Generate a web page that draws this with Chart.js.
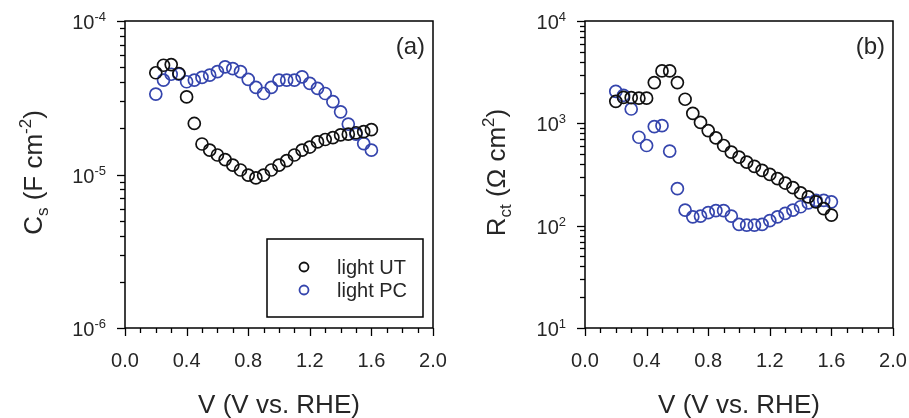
<!DOCTYPE html>
<html>
<head>
<meta charset="utf-8">
<script src="https://cdn.jsdelivr.net/npm/chart.js@4.4.1/dist/chart.umd.min.js"></script>
<style>
  html, body { margin: 0; padding: 0; background: #fff; }
  #wrap { position: relative; width: 909px; height: 418px; }
  .panel { position: absolute; top: 0; height: 418px; }
  #panelA { left: 0; width: 455px; }
  #panelB { left: 455px; width: 454px; }
</style>
</head>
<body>
<div id="wrap">
  <div class="panel" id="panelA"><canvas id="chartA"></canvas></div>
  <div class="panel" id="panelB"><canvas id="chartB"></canvas></div>
</div>
<script>
// potentials (V vs. RHE)
const voltages = [0.20, 0.25, 0.30, 0.35, 0.40, 0.45, 0.50, 0.55, 0.60, 0.65,
                  0.70, 0.75, 0.80, 0.85, 0.90, 0.95, 1.00, 1.05, 1.10, 1.15,
                  1.20, 1.25, 1.30, 1.35, 1.40, 1.45, 1.50, 1.55, 1.60];

// panel (a): Cs, F cm^-2
const csLightUT = [4.6e-5, 5.15e-5, 5.2e-5, 4.55e-5, 3.2e-5, 2.15e-5, 1.58e-5, 1.44e-5, 1.34e-5, 1.25e-5,
                   1.15e-5, 1.07e-5, 9.9e-6, 9.5e-6, 9.9e-6, 1.07e-5, 1.15e-5, 1.23e-5, 1.34e-5, 1.44e-5,
                   1.51e-5, 1.63e-5, 1.69e-5, 1.74e-5, 1.81e-5, 1.83e-5, 1.87e-5, 1.9e-5, 1.96e-5];
const csLightPC = [3.34e-5, 4.12e-5, 4.5e-5, 4.5e-5, 4.02e-5, 4.12e-5, 4.29e-5, 4.44e-5, 4.68e-5, 5.03e-5,
                   4.9e-5, 4.68e-5, 4.17e-5, 3.69e-5, 3.37e-5, 3.69e-5, 4.12e-5, 4.12e-5, 4.12e-5, 4.33e-5,
                   3.92e-5, 3.64e-5, 3.37e-5, 2.98e-5, 2.56e-5, 2.13e-5, 1.83e-5, 1.59e-5, 1.44e-5];

// panel (b): Rct, Ohm cm^2
const rctLightUT = [1640, 1790, 1780, 1760, 1760, 2500, 3250, 3250, 2500, 1720,
                    1250, 1020, 850, 720, 607, 523, 468, 418, 379, 347,
                    317, 288, 261, 235, 209, 191, 171, 147, 127];
const rctLightPC = [2050, 1880, 1380, 731, 607, 929, 949, 535, 230, 142,
                    122, 124, 134, 140, 140, 124, 103, 101, 101, 103,
                    112, 122, 132, 142, 153, 167, 177, 177, 171];

const xTicks = [0.0, 0.4, 0.8, 1.2, 1.6, 2.0];
const seriesNames = ['light UT', 'light PC'];

const BLACK = '#111111';
const BLUE = '#3545ad';
const TEXT = '#262626';
const FONT = '"Liberation Sans", Arial, sans-serif';

const toPoints = (ys) => voltages.map((v, i) => ({ x: v, y: ys[i] }));

// draws text made of pieces: {t, size, dy}
const drawRich = (ctx, parts, x, y, align) => {
    let total = 0;
    parts.forEach(p => {
        ctx.font = p.size + 'px ' + FONT;
        p.w = ctx.measureText(p.t).width;
        total += p.w;
    });
    let cx = align === 'right' ? x - total : (align === 'center' ? x - total / 2 : x);
    ctx.textAlign = 'left';
    ctx.textBaseline = 'alphabetic';
    parts.forEach(p => {
        ctx.font = p.size + 'px ' + FONT;
        ctx.fillText(p.t, cx, y + (p.dy || 0));
        cx += p.w;
    });
};

const framePlugin = {
    id: 'frame',
    afterDraw(chart, args, opts) {
        const { ctx, chartArea: a, scales } = chart;
        const xs = scales.x, ys = scales.y;
        ctx.save();
        ctx.strokeStyle = '#000';
        ctx.lineWidth = 1.5;
        ctx.strokeRect(a.left, a.top, a.right - a.left, a.bottom - a.top);

        // x ticks
        ctx.lineWidth = 1.3;
        for (let i = 0; i <= 20; i++) {
            const v = i / 10;
            const px = Math.round(xs.getPixelForValue(v)) + 0.5;
            const major = i % 4 === 0;
            ctx.beginPath();
            ctx.moveTo(px, a.bottom);
            ctx.lineTo(px, a.bottom + (major ? 8 : 5));
            ctx.stroke();
        }
        ctx.fillStyle = TEXT;
        ctx.font = '20px ' + FONT;
        ctx.textAlign = 'center';
        ctx.textBaseline = 'alphabetic';
        xTicks.forEach(v => {
            ctx.fillText(v.toFixed(1), xs.getPixelForValue(v), 367);
        });

        // y log ticks
        const lo = Math.round(Math.log10(ys.min)), hi = Math.round(Math.log10(ys.max));
        for (let e = lo; e <= hi; e++) {
            const base = Math.pow(10, e);
            const py = Math.round(ys.getPixelForValue(base)) + 0.5;
            ctx.beginPath();
            ctx.moveTo(a.left, py);
            ctx.lineTo(a.left - 8, py);
            ctx.stroke();
            drawRich(ctx, [
                { t: '10', size: 20 },
                { t: String(e), size: 13, dy: -8 }
            ], a.left - 19, py + 7, 'right');
            if (e < hi) {
                for (let k = 2; k <= 9; k++) {
                    const my = Math.round(ys.getPixelForValue(base * k)) + 0.5;
                    ctx.beginPath();
                    ctx.moveTo(a.left, my);
                    ctx.lineTo(a.left - 5, my);
                    ctx.stroke();
                }
            }
        }

        // x axis title
        ctx.fillStyle = TEXT;
        ctx.font = '26px ' + FONT;
        ctx.textAlign = 'center';
        ctx.fillText('V (V vs. RHE)', (a.left + a.right) / 2, 413);

        // y axis title (rotated)
        ctx.save();
        ctx.translate(opts.titleX, (a.top + a.bottom) / 2 - 2);
        ctx.rotate(-Math.PI / 2);
        drawRich(ctx, opts.yTitle, 0, 0, 'center');
        ctx.restore();

        // panel letter
        ctx.font = '24px ' + FONT;
        ctx.textAlign = 'right';
        ctx.fillText(opts.letter, a.right - 8, 54);

        // legend
        if (opts.legend) {
            const L = opts.legend;
            ctx.lineWidth = 1.5;
            ctx.strokeStyle = '#000';
            ctx.strokeRect(L.x, L.y, L.w, L.h);
            chart.data.datasets.forEach((ds, i) => {
                const cy = L.y + 28 + i * 23;
                ctx.beginPath();
                ctx.arc(L.x + 37, cy, 4.5, 0, Math.PI * 2);
                ctx.strokeStyle = ds.borderColor;
                ctx.lineWidth = 1.8;
                ctx.stroke();
                ctx.fillStyle = TEXT;
                ctx.font = '20px ' + FONT;
                ctx.textAlign = 'left';
                ctx.fillText(ds.label, L.x + 70, cy + 7);
            });
        }
        ctx.restore();
    }
};

const makeChart = (id, ds1, ds2, yMin, yMax, yWidth, padRight, plugOpts) => {
    return new Chart(document.getElementById(id), {
        type: 'scatter',
        data: {
            datasets: [
                { label: seriesNames[0], data: toPoints(ds1), borderColor: BLACK, backgroundColor: 'transparent',
                  pointRadius: 6, pointBorderWidth: 1.7, pointHoverRadius: 6 },
                { label: seriesNames[1], data: toPoints(ds2), borderColor: BLUE, backgroundColor: 'transparent',
                  pointRadius: 6, pointBorderWidth: 1.7, pointHoverRadius: 6 }
            ]
        },
        options: {
            responsive: true,
            maintainAspectRatio: false,
            animation: false,
            layout: { padding: { top: 21, right: padRight, left: 0, bottom: 0 } },
            plugins: {
                legend: { display: false },
                tooltip: { enabled: false },
                frame: plugOpts
            },
            scales: {
                x: {
                    type: 'linear', min: 0, max: 2,
                    grid: { display: false }, border: { display: false },
                    ticks: { display: false },
                    afterFit: (s) => { s.height = 90; }
                },
                y: {
                    type: 'logarithmic', min: yMin, max: yMax,
                    grid: { display: false }, border: { display: false },
                    ticks: { display: false },
                    afterFit: (s) => { s.width = yWidth; }
                }
            }
        },
        plugins: [framePlugin]
    });
};

makeChart('chartA', csLightUT, csLightPC, 1e-6, 1e-4, 125, 22, {
    letter: '(a)',
    titleX: 42,
    yTitle: [
        { t: 'C', size: 26 },
        { t: 's', size: 17, dy: 6 },
        { t: ' (F cm', size: 26 },
        { t: '-2', size: 17, dy: -11 },
        { t: ')', size: 26 }
    ],
    legend: { x: 267, y: 239, w: 156, h: 78 }
});

makeChart('chartB', rctLightUT, rctLightPC, 10, 1e4, 130, 16, {
    letter: '(b)',
    titleX: 50,
    yTitle: [
        { t: 'R', size: 26 },
        { t: 'ct', size: 17, dy: 6 },
        { t: ' (\u03A9 cm', size: 26 },
        { t: '2', size: 17, dy: -11 },
        { t: ')', size: 26 }
    ]
});
</script>
</body>
</html>
